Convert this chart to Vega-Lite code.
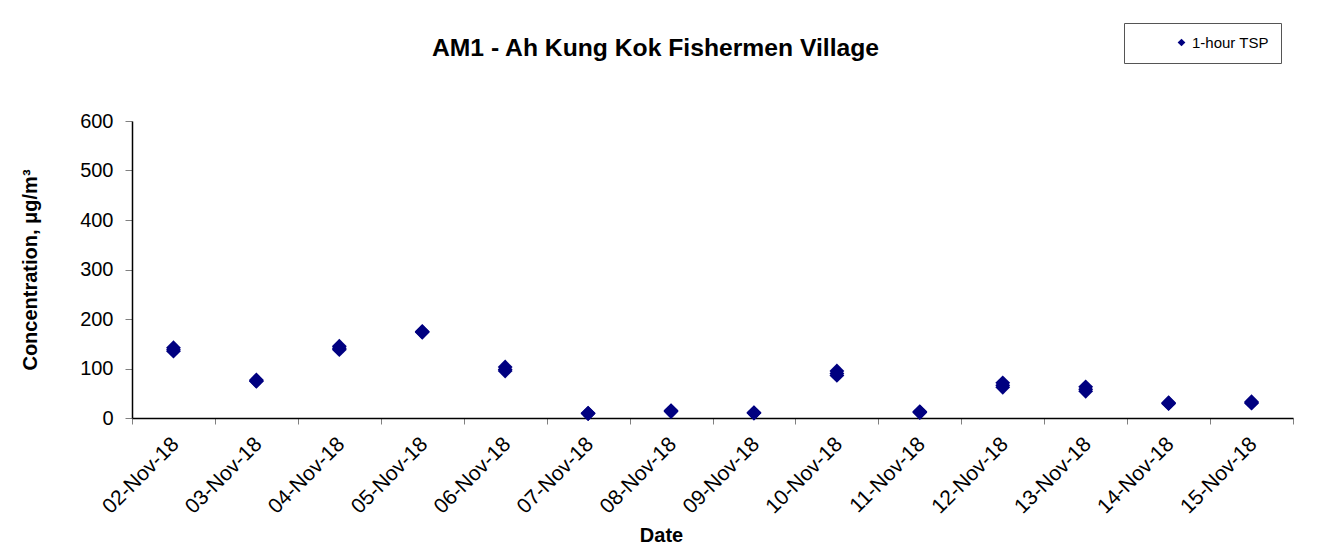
{
  "$schema": "https://vega.github.io/schema/vega-lite/v6.json",
  "autosize": {"type": "none"},
  "width": 1161,
  "height": 297,
  "padding": {"left": 132, "top": 121, "right": 36, "bottom": 134},
  "background": "white",
  "title": {
    "text": "AM1 - Ah Kung Kok Fishermen Village",
    "font": "Liberation Sans",
    "fontSize": 24.7,
    "fontWeight": "bold",
    "color": "black",
    "anchor": "middle",
    "frame": "group",
    "dx": -57,
    "offset": -38
  },
  "data": {
    "values": [
      {"date": "02-Nov-18", "value": 142, "series": "1-hour TSP"},
      {"date": "02-Nov-18", "value": 138, "series": "1-hour TSP"},
      {"date": "02-Nov-18", "value": 135, "series": "1-hour TSP"},
      {"date": "03-Nov-18", "value": 77, "series": "1-hour TSP"},
      {"date": "03-Nov-18", "value": 75, "series": "1-hour TSP"},
      {"date": "03-Nov-18", "value": 74, "series": "1-hour TSP"},
      {"date": "04-Nov-18", "value": 145, "series": "1-hour TSP"},
      {"date": "04-Nov-18", "value": 141, "series": "1-hour TSP"},
      {"date": "04-Nov-18", "value": 138, "series": "1-hour TSP"},
      {"date": "05-Nov-18", "value": 175, "series": "1-hour TSP"},
      {"date": "05-Nov-18", "value": 174, "series": "1-hour TSP"},
      {"date": "05-Nov-18", "value": 173, "series": "1-hour TSP"},
      {"date": "06-Nov-18", "value": 103, "series": "1-hour TSP"},
      {"date": "06-Nov-18", "value": 98, "series": "1-hour TSP"},
      {"date": "06-Nov-18", "value": 95, "series": "1-hour TSP"},
      {"date": "07-Nov-18", "value": 10, "series": "1-hour TSP"},
      {"date": "07-Nov-18", "value": 9, "series": "1-hour TSP"},
      {"date": "07-Nov-18", "value": 9, "series": "1-hour TSP"},
      {"date": "08-Nov-18", "value": 15, "series": "1-hour TSP"},
      {"date": "08-Nov-18", "value": 14, "series": "1-hour TSP"},
      {"date": "08-Nov-18", "value": 13, "series": "1-hour TSP"},
      {"date": "09-Nov-18", "value": 11, "series": "1-hour TSP"},
      {"date": "09-Nov-18", "value": 10, "series": "1-hour TSP"},
      {"date": "09-Nov-18", "value": 10, "series": "1-hour TSP"},
      {"date": "10-Nov-18", "value": 95, "series": "1-hour TSP"},
      {"date": "10-Nov-18", "value": 90, "series": "1-hour TSP"},
      {"date": "10-Nov-18", "value": 86, "series": "1-hour TSP"},
      {"date": "11-Nov-18", "value": 13, "series": "1-hour TSP"},
      {"date": "11-Nov-18", "value": 12, "series": "1-hour TSP"},
      {"date": "11-Nov-18", "value": 11, "series": "1-hour TSP"},
      {"date": "12-Nov-18", "value": 71, "series": "1-hour TSP"},
      {"date": "12-Nov-18", "value": 66, "series": "1-hour TSP"},
      {"date": "12-Nov-18", "value": 62, "series": "1-hour TSP"},
      {"date": "13-Nov-18", "value": 63, "series": "1-hour TSP"},
      {"date": "13-Nov-18", "value": 58, "series": "1-hour TSP"},
      {"date": "13-Nov-18", "value": 54, "series": "1-hour TSP"},
      {"date": "14-Nov-18", "value": 31, "series": "1-hour TSP"},
      {"date": "14-Nov-18", "value": 30, "series": "1-hour TSP"},
      {"date": "14-Nov-18", "value": 29, "series": "1-hour TSP"},
      {"date": "15-Nov-18", "value": 33, "series": "1-hour TSP"},
      {"date": "15-Nov-18", "value": 31, "series": "1-hour TSP"},
      {"date": "15-Nov-18", "value": 30, "series": "1-hour TSP"}
    ]
  },
  "mark": {"type": "point", "shape": "diamond", "filled": true, "size": 220, "opacity": 1},
  "encoding": {
    "x": {
      "field": "date",
      "type": "ordinal",
      "scale": {"type": "band", "paddingInner": 0, "paddingOuter": 0},
      "axis": {
        "title": "Date",
        "titleFont": "Liberation Sans",
        "titleFontSize": 20,
        "titleFontWeight": "bold",
        "titleColor": "black",
        "titlePadding": 8,
        "titleX": 529,
        "labelFont": "Liberation Sans",
        "labelFontSize": 21,
        "labelColor": "black",
        "labelAngle": -45,
        "labelPadding": 9,
        "labelOffset": -6,
        "tickBand": "extent",
        "tickColor": "#808080",
        "tickSize": 6,
        "domainColor": "black",
        "domainWidth": 1.5,
        "grid": false
      }
    },
    "y": {
      "field": "value",
      "type": "quantitative",
      "scale": {"domain": [0, 600], "nice": false},
      "axis": {
        "title": "Concentration, μg/m³",
        "titleFont": "Liberation Sans",
        "titleFontSize": 20,
        "titleFontWeight": "bold",
        "titleColor": "black",
        "titlePadding": 39,
        "labelFont": "Liberation Sans",
        "labelFontSize": 20,
        "labelColor": "black",
        "labelPadding": 12,
        "values": [0, 100, 200, 300, 400, 500, 600],
        "tickColor": "#808080",
        "tickSize": 7,
        "domainColor": "black",
        "domainWidth": 1.5,
        "grid": false
      }
    },
    "color": {
      "field": "series",
      "type": "nominal",
      "scale": {"range": ["#000080"]},
      "legend": {
        "title": null,
        "orient": "none",
        "legendX": 992,
        "legendY": -98,
        "padding": 12,
        "symbolOffset": 38,
        "symbolType": "diamond",
        "symbolSize": 60,
        "labelFont": "Liberation Sans",
        "labelFontSize": 15,
        "labelColor": "black",
        "labelOffset": 3,
        "strokeColor": "#555555",
        "fillColor": "white"
      }
    }
  },
  "config": {"view": {"stroke": null}}
}
